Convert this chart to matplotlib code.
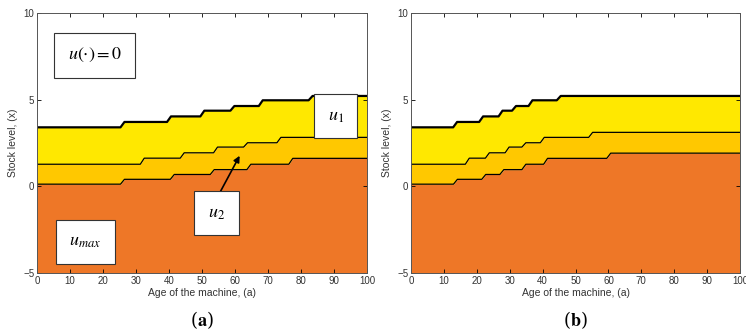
import numpy as np
import matplotlib.pyplot as plt

plt.rcParams['font.family'] = ['Liberation Sans', 'DejaVu Sans']
plt.rcParams['mathtext.fontset'] = 'stix'

# step switching curves: where each step starts and the level after it
# panel (a)
a_top_steps = [25.3, 39.4, 49.5, 58.6, 67.2, 82.3]
a_top_levels = [3.40, 3.71, 4.03, 4.36, 4.63, 4.96, 5.21]
a_mid_steps = [31.3, 43.4, 53.5, 62.6, 72.7]
a_mid_levels = [1.27, 1.62, 1.93, 2.26, 2.51, 2.82]
a_low_steps = [25.3, 40.4, 52.5, 63.6, 76.3]
a_low_levels = [0.12, 0.40, 0.68, 0.96, 1.27, 1.61]

# panel (b)
b_top_steps = [12.8, 20.7, 26.6, 30.7, 35.7, 44.3]
b_top_levels = [3.40, 3.71, 4.03, 4.36, 4.63, 4.96, 5.21]
b_mid_steps = [16.5, 22.6, 28.6, 33.7, 39.3, 54.0]
b_mid_levels = [1.27, 1.62, 1.93, 2.26, 2.51, 2.82, 3.11]
b_low_steps = [12.9, 21.5, 27.0, 33.7, 40.3, 59.5]
b_low_levels = [0.12, 0.40, 0.68, 0.96, 1.27, 1.61, 1.91]

x_ticks = [0, 10, 20, 30, 40, 50, 60, 70, 80, 90, 100]
y_ticks = [-5, 0, 5, 10]

c_low = '#EE7727'
c_mid = '#FFC800'
c_top = '#FFE800'


def step_curve(steps, levels, ramp=1.2):
    xs = [0]
    ys = [levels[0]]
    for s, lo, hi in zip(steps, levels[:-1], levels[1:]):
        xs += [s, s + ramp]
        ys += [lo, hi]
    xs.append(100)
    ys.append(levels[-1])
    return np.array(xs), np.array(ys)


def draw_panel(ax, top, mid, low, caption):
    xt, yt = step_curve(*top)
    xm, ym = step_curve(*mid)
    xl, yl = step_curve(*low)
    grid = np.linspace(0, 100, 2001)
    yt_g = np.interp(grid, xt, yt)
    ym_g = np.interp(grid, xm, ym)
    yl_g = np.interp(grid, xl, yl)
    ax.fill_between(grid, -5, yl_g, color=c_low, lw=0)
    ax.fill_between(grid, yl_g, ym_g, color=c_mid, lw=0)
    ax.fill_between(grid, ym_g, yt_g, color=c_top, lw=0)
    ax.plot(xt, yt, color='black', lw=1.6)
    ax.plot(xm, ym, color='black', lw=0.9)
    ax.plot(xl, yl, color='black', lw=0.9)
    ax.set_xlim(0, 100)
    ax.set_ylim(-5, 10)
    ax.set_xticks(x_ticks)
    ax.set_yticks(y_ticks)
    ax.tick_params(direction='in', top=True, right=True, labelsize=7,
                   labelcolor='#333333', length=3, width=0.6, pad=2)
    for sp in ax.spines.values():
        sp.set_linewidth(0.7)
        sp.set_color('#555555')
    ax.set_xlabel('Age of the machine, (a)', fontsize=7.5, color='#333333', labelpad=2)
    ax.set_ylabel('Stock level, (x)', fontsize=7.5, color='#333333', labelpad=4)
    ax.text(0.5, -0.18, caption, transform=ax.transAxes, ha='center', va='center',
            fontsize=13, family='DejaVu Serif')


fig = plt.figure(figsize=(7.46, 3.32), dpi=100)
ax1 = fig.add_axes([0.0496, 0.178, 0.4424, 0.783])
ax2 = fig.add_axes([0.551, 0.178, 0.441, 0.783])

draw_panel(ax1, (a_top_steps, a_top_levels), (a_mid_steps, a_mid_levels),
           (a_low_steps, a_low_levels), r'($\mathbf{a}$)')
draw_panel(ax2, (b_top_steps, b_top_levels), (b_mid_steps, b_mid_levels),
           (b_low_steps, b_low_levels), r'($\mathbf{b}$)')

ax1.text(17.5, 7.55, r'$u(\cdot) = 0$', fontsize=13, ha='center', va='center',
         bbox=dict(boxstyle='square,pad=0.75', fc='white', ec='#333333', lw=0.8))
ax1.text(90.5, 4.05, r'$u_1$', fontsize=13, ha='center', va='center',
         bbox=dict(boxstyle='square,pad=0.75', fc='white', ec='#333333', lw=0.8))
ax1.annotate('', xy=(61.8, 1.9), xytext=(54.8, -0.58),
             arrowprops=dict(arrowstyle='-|>', color='black', lw=1.2, mutation_scale=9))
ax1.text(54.4, -1.55, r'$u_2$', fontsize=13, ha='center', va='center',
         bbox=dict(boxstyle='square,pad=0.75', fc='white', ec='#333333', lw=0.8))
ax1.text(14.6, -3.2, r'$u_{max}$', fontsize=13, ha='center', va='center',
         bbox=dict(boxstyle='square,pad=0.75', fc='white', ec='#333333', lw=0.8))

fig.savefig('out.png', dpi=100)
